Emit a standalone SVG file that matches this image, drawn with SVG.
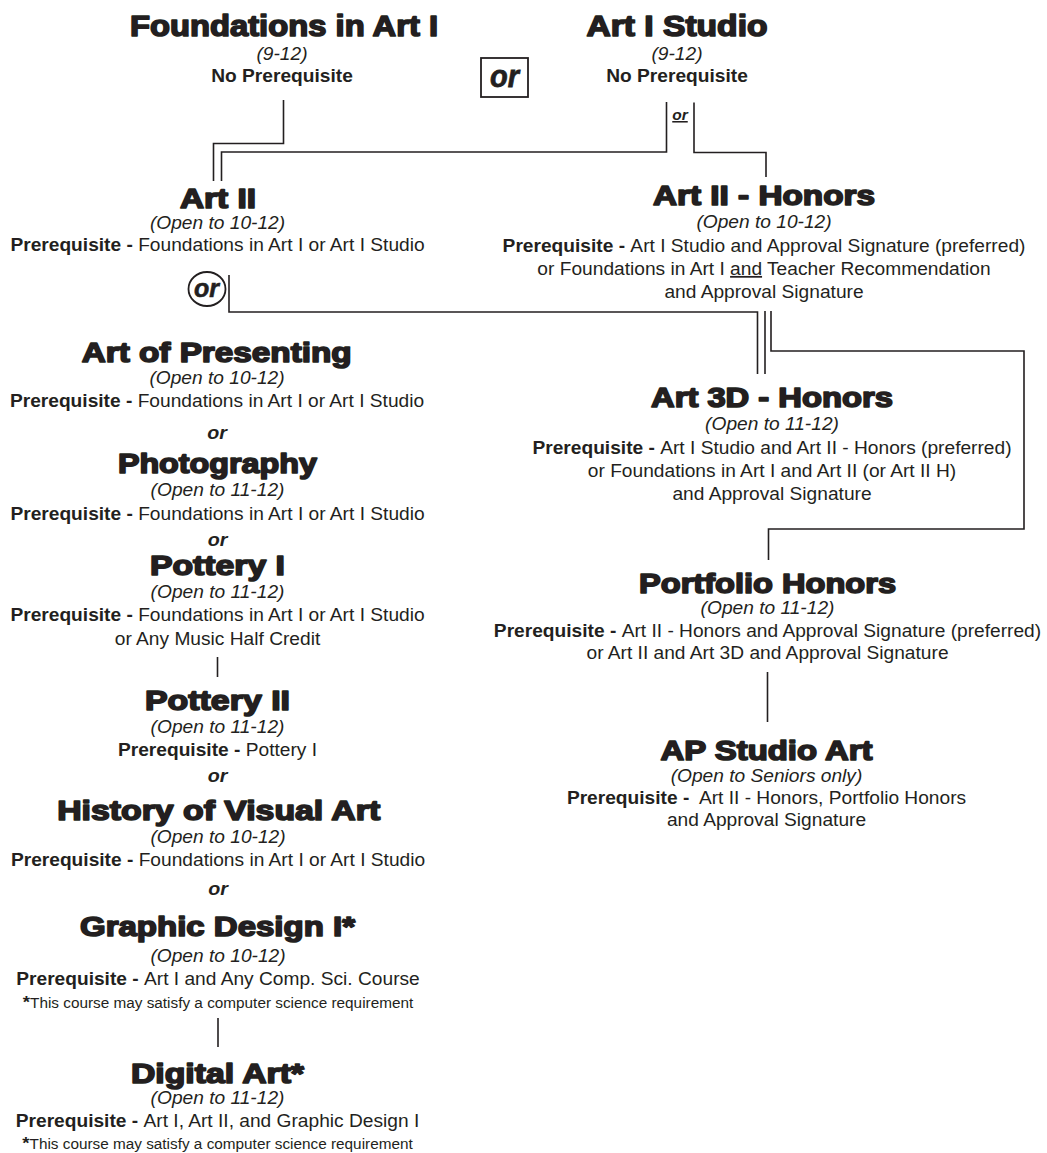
<svg xmlns="http://www.w3.org/2000/svg" width="1047" height="1153" viewBox="0 0 1047 1153">
<style>
text{font-family:"Liberation Sans",Arial,Helvetica,sans-serif;fill:#231f20;text-anchor:middle}
.title{font-size:27px;font-weight:bold;stroke:#231f20;stroke-width:1.6;stroke-linejoin:round}
.big{font-size:29px}
.g{font-size:17.5px;font-style:italic}
.p{font-size:17.5px}
.b{font-weight:bold}
.or{font-size:18px;font-weight:bold;font-style:italic}
.fn{font-size:14px}
.ast{font-size:17px;font-weight:bold}
.conn{fill:none;stroke:#231f20;stroke-width:1.6}
.box{fill:none;stroke:#231f20;stroke-width:1.8}
</style>
<rect width="1047" height="1153" fill="#ffffff"/>

<g id="connectors">
<path class="conn" d="M283.5 100 V143.5 H213.5 V181"/>
<path class="conn" d="M666.5 102 V152 H221.5 V181"/>
<path class="conn" d="M694 102.5 V152.5 H766 V177"/>
<path class="conn" d="M229 275 V312 H757.5 V374"/>
<path class="conn" d="M765 311 V374"/>
<path class="conn" d="M771 311 V351 H1024 V529 H768.5 V560"/>
<path class="conn" d="M767.5 672 V722"/>
<path class="conn" d="M217.5 657 V677"/>
<path class="conn" d="M218 1018 V1047"/>
<text class="or" x="680" y="120" style="font-size:15.5px;text-decoration:underline">or</text>
</g>

<g id="or-box">
<rect class="box" x="481" y="58" width="47" height="39"/>
<text x="504.5" y="87" style="font-size:32px;font-weight:bold;font-style:italic;stroke:#231f20;stroke-width:0.8" textLength="29" lengthAdjust="spacingAndGlyphs">or</text>
</g>

<g id="or-circle">
<ellipse class="box" cx="207" cy="289" rx="18.5" ry="17"/>
<text x="206.5" y="297" style="font-size:26px;font-weight:bold;font-style:italic;stroke:#231f20;stroke-width:0.6" textLength="25" lengthAdjust="spacingAndGlyphs">or</text>
</g>

<g id="foundations">
<text class="title big" x="284" y="36" textLength="308" lengthAdjust="spacingAndGlyphs">Foundations in Art I</text>
<g transform="translate(282 0) scale(1.095 1)">
<text class="g" x="0" y="60">(9-12)</text>
<text class="p b" x="0" y="82">No Prerequisite</text>
</g>
</g>

<g id="art1studio">
<text class="title big" x="677" y="36" textLength="181" lengthAdjust="spacingAndGlyphs">Art I Studio</text>
<g transform="translate(677 0) scale(1.095 1)">
<text class="g" x="0" y="60">(9-12)</text>
<text class="p b" x="0" y="82">No Prerequisite</text>
</g>
</g>

<g id="art2">
<text class="title" x="218" y="208" textLength="76" lengthAdjust="spacingAndGlyphs">Art II</text>
<g transform="translate(217.5 0) scale(1.095 1)">
<text class="g" x="0" y="229">(Open to 10-12)</text>
<text class="p" x="0" y="251"><tspan class="b">Prerequisite - </tspan>Foundations in Art I or Art I Studio</text>
</g>
</g>

<g id="art2honors">
<text class="title" x="764" y="205" textLength="222" lengthAdjust="spacingAndGlyphs">Art II - Honors</text>
<g transform="translate(764 0) scale(1.095 1)">
<text class="g" x="0" y="228">(Open to 10-12)</text>
<text class="p" x="0" y="252"><tspan class="b">Prerequisite - </tspan>Art I Studio and Approval Signature (preferred)</text>
<text class="p" x="0" y="275">or Foundations in Art I <tspan style="text-decoration:underline">and</tspan> Teacher Recommendation</text>
<text class="p" x="0" y="298">and Approval Signature</text>
</g>
</g>

<g id="art3d">
<text class="title" x="772" y="407" textLength="242" lengthAdjust="spacingAndGlyphs">Art 3D - Honors</text>
<g transform="translate(772 0) scale(1.095 1)">
<text class="g" x="0" y="430">(Open to 11-12)</text>
<text class="p" x="0" y="454"><tspan class="b">Prerequisite - </tspan>Art I Studio and Art II - Honors (preferred)</text>
<text class="p" x="0" y="477">or Foundations in Art I and Art II (or Art II H)</text>
<text class="p" x="0" y="500">and Approval Signature</text>
</g>
</g>

<g id="portfolio">
<text class="title" x="767.5" y="593" textLength="257" lengthAdjust="spacingAndGlyphs">Portfolio Honors</text>
<g transform="translate(767.5 0) scale(1.095 1)">
<text class="g" x="0" y="614">(Open to 11-12)</text>
<text class="p" x="0" y="637"><tspan class="b">Prerequisite - </tspan>Art II - Honors and Approval Signature (preferred)</text>
<text class="p" x="0" y="659">or Art II and Art 3D and Approval Signature</text>
</g>
</g>

<g id="apstudio">
<text class="title" x="766.5" y="760" textLength="212" lengthAdjust="spacingAndGlyphs">AP Studio Art</text>
<g transform="translate(766.5 0) scale(1.095 1)">
<text class="g" x="0" y="782">(Open to Seniors only)</text>
<text class="p" x="0" y="804" xml:space="preserve"><tspan class="b">Prerequisite - </tspan> Art II - Honors, Portfolio Honors</text>
<text class="p" x="0" y="826">and Approval Signature</text>
</g>
</g>

<g id="presenting">
<text class="title" x="216.7" y="362" textLength="270" lengthAdjust="spacingAndGlyphs">Art of Presenting</text>
<g transform="translate(217 0) scale(1.095 1)">
<text class="g" x="0" y="384">(Open to 10-12)</text>
<text class="p" x="0" y="407"><tspan class="b">Prerequisite - </tspan>Foundations in Art I or Art I Studio</text>
<text class="or" x="0" y="439">or</text>
</g>
</g>

<g id="photography">
<text class="title" x="217.4" y="473" textLength="199" lengthAdjust="spacingAndGlyphs">Photography</text>
<g transform="translate(217.5 0) scale(1.095 1)">
<text class="g" x="0" y="496">(Open to 11-12)</text>
<text class="p" x="0" y="520"><tspan class="b">Prerequisite - </tspan>Foundations in Art I or Art I Studio</text>
<text class="or" x="0" y="546">or</text>
</g>
</g>

<g id="pottery1">
<text class="title" x="217.5" y="575" textLength="135" lengthAdjust="spacingAndGlyphs">Pottery I</text>
<g transform="translate(217.5 0) scale(1.095 1)">
<text class="g" x="0" y="598">(Open to 11-12)</text>
<text class="p" x="0" y="621"><tspan class="b">Prerequisite - </tspan>Foundations in Art I or Art I Studio</text>
<text class="p" x="0" y="645">or Any Music Half Credit</text>
</g>
</g>

<g id="pottery2">
<text class="title" x="217.5" y="710" textLength="145" lengthAdjust="spacingAndGlyphs">Pottery II</text>
<g transform="translate(217.5 0) scale(1.095 1)">
<text class="g" x="0" y="733">(Open to 11-12)</text>
<text class="p" x="0" y="756"><tspan class="b">Prerequisite - </tspan>Pottery I</text>
<text class="or" x="0" y="782">or</text>
</g>
</g>

<g id="history">
<text class="title" x="218.7" y="820" textLength="323" lengthAdjust="spacingAndGlyphs">History of Visual Art</text>
<g transform="translate(218 0) scale(1.095 1)">
<text class="g" x="0" y="843">(Open to 10-12)</text>
<text class="p" x="0" y="866"><tspan class="b">Prerequisite - </tspan>Foundations in Art I or Art I Studio</text>
<text class="or" x="0" y="895">or</text>
</g>
</g>

<g id="graphic">
<text class="title" x="217.5" y="936" textLength="275" lengthAdjust="spacingAndGlyphs">Graphic Design I*</text>
<g transform="translate(218 0) scale(1.095 1)">
<text class="g" x="0" y="962">(Open to 10-12)</text>
<text class="p" x="0" y="985"><tspan class="b">Prerequisite - </tspan>Art I and Any Comp. Sci. Course</text>
<text class="fn" x="0" y="1008"><tspan class="ast">*</tspan>This course may satisfy a computer science requirement</text>
</g>
</g>

<g id="digital">
<text class="title" x="217.5" y="1083" textLength="173" lengthAdjust="spacingAndGlyphs">Digital Art*</text>
<g transform="translate(217.5 0) scale(1.095 1)">
<text class="g" x="0" y="1104">(Open to 11-12)</text>
<text class="p" x="0" y="1127"><tspan class="b">Prerequisite - </tspan>Art I, Art II, and Graphic Design I</text>
<text class="fn" x="0" y="1149"><tspan class="ast">*</tspan>This course may satisfy a computer science requirement</text>
</g>
</g>
</svg>
